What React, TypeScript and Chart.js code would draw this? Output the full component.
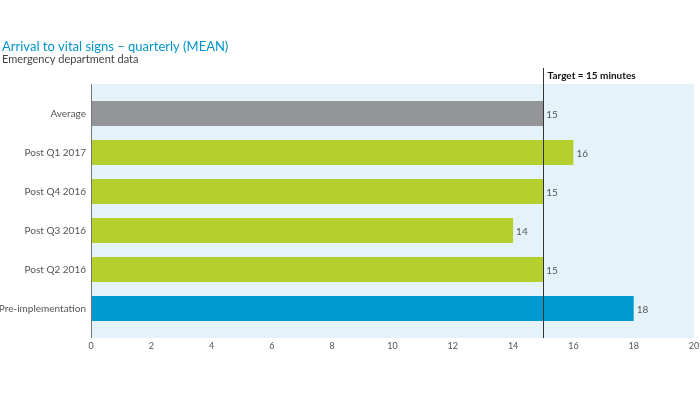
import React, { useEffect, useRef } from "react";
import { Chart, registerables } from "chart.js";

Chart.register(...registerables);

const categories = ["Average", "Post Q1 2017", "Post Q4 2016", "Post Q3 2016", "Post Q2 2016", "Pre-implementation"];
const values = [15, 16, 15, 14, 15, 18];
const barColors = ["#939598", "#b5cf2e", "#b5cf2e", "#b5cf2e", "#b5cf2e", "#0099d0"];
const targetValue = 15;
const targetLabel = "Target = 15 minutes";
const titleText = "Arrival to vital signs – quarterly (MEAN)";
const subtitleText = "Emergency department data";
const FONT = "Lato, 'Open Sans', sans-serif";

export default function App() {
  const ref = useRef<HTMLCanvasElement>(null);
  useEffect(() => {
    document.body.style.margin = "0";
    const ctx = ref.current!.getContext("2d")!;
    const decor = {
      id: "decor",
      beforeDatasetsDraw(chart: any) {
        const c = chart.ctx;
        const a = chart.chartArea;
        c.save();
        c.fillStyle = "#e4f3fa";
        c.fillRect(a.left, a.top - 10, a.right - a.left, a.bottom - a.top + 20);
        c.restore();
      },
      afterDatasetsDraw(chart: any) {
        const c = chart.ctx;
        const a = chart.chartArea;
        const xs = chart.scales.x;
        c.save();
        c.strokeStyle = "#777";
        c.lineWidth = 1;
        c.beginPath();
        c.moveTo(a.left + 0.5, a.top - 10);
        c.lineTo(a.left + 0.5, a.bottom + 10);
        c.stroke();
        const tx = Math.round(xs.getPixelForValue(targetValue)) + 0.5;
        c.strokeStyle = "#333";
        c.beginPath();
        c.moveTo(tx, a.top - 26);
        c.lineTo(tx, a.bottom + 10);
        c.stroke();
        c.fillStyle = "#111";
        c.font = "bold 10px " + FONT;
        c.textBaseline = "middle";
        c.textAlign = "left";
        c.fillText(targetLabel, tx + 4, a.top - 18);
        c.font = "10px " + FONT;
        c.fillStyle = "#555";
        const meta = chart.getDatasetMeta(0);
        meta.data.forEach((bar: any, i: number) => {
          c.fillText(String(values[i]), bar.x + 3, bar.y + 1);
        });
        c.textBaseline = "alphabetic";
        c.fillStyle = "#0094c9";
        c.font = "13px " + FONT;
        c.fillText(titleText, 2, 51);
        c.fillStyle = "#444";
        c.font = "11px " + FONT;
        c.fillText(subtitleText, 2, 63);
        c.restore();
      },
    };
    const chart = new Chart(ctx, {
      type: "bar",
      data: {
        labels: categories,
        datasets: [
          {
            data: values,
            backgroundColor: barColors,
            borderWidth: 0,
            barPercentage: 0.64,
            categoryPercentage: 1,
          },
        ],
      },
      options: {
        indexAxis: "y",
        animation: false,
        responsive: false,
        layout: { padding: { top: 94, right: 0, bottom: 0, left: 0 } },
        plugins: { legend: { display: false }, tooltip: { enabled: false } },
        scales: {
          x: {
            min: 0,
            max: 20,
            ticks: { stepSize: 2, color: "#555", font: { size: 9, family: FONT }, padding: 13 },
            grid: { display: false, drawTicks: false },
            border: { display: false },
            afterFit: (s: any) => { s.height = 66; s.paddingRight = 6; s.paddingLeft = 0; },
          },
          y: {
            ticks: { color: "#555", font: { size: 10, family: FONT }, padding: 5 },
            grid: { display: false, drawTicks: false },
            border: { display: false },
            afterFit: (s: any) => { s.width = 91; s.paddingTop = 0; s.paddingBottom = 0; },
          },
        },
      },
      plugins: [decor],
    });
    return () => chart.destroy();
  }, []);
  return (
    <div style={{ position: "absolute", left: 0, top: 0, width: 700, height: 394, background: "#fff" }}>
      <canvas ref={ref} width={700} height={394} />
    </div>
  );
}
